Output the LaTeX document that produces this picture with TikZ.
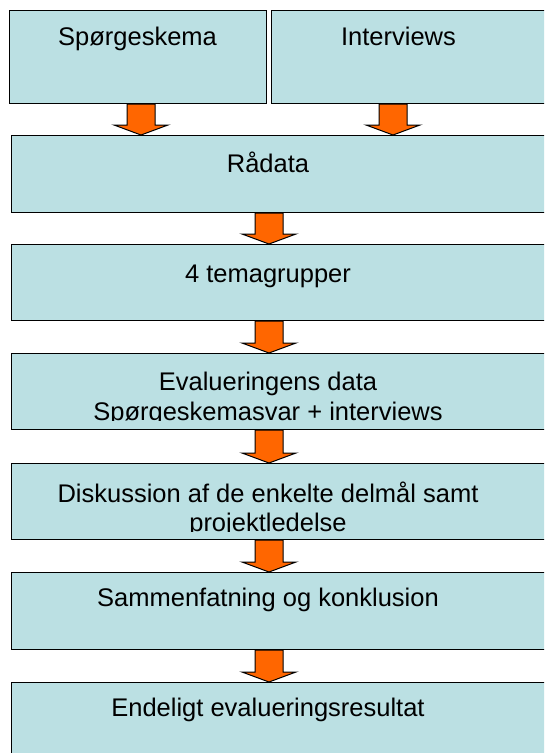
\documentclass[tikz,border=0pt]{standalone}
\usepackage{fontspec}
\setmainfont{Liberation Sans}
\usetikzlibrary{calc}
\definecolor{boxfill}{RGB}{187,224,227}
\definecolor{arroworange}{RGB}{255,102,0}
\tikzset{
  box/.style={draw=black, fill=boxfill, line width=1.1pt, rectangle, inner sep=0pt, anchor=north west},
  txt/.style={inner sep=0pt, anchor=base, font=\fontsize{25.5}{29.5}\selectfont},
  arrowsty/.style={draw=black, fill=arroworange, line width=1pt, line join=miter}
}
\newcommand\barrow[3]{%
  \draw[arrowsty] let \p1=(#2.south), \p2=(#3.north) in
    ({#1pt-14pt},\y1) -- ({#1pt+14pt},\y1) -- ({#1pt+14pt},{\y2+10pt}) --
    ({#1pt+27pt},{\y2+10pt}) -- (#1pt,\y2) -- ({#1pt-27pt},{\y2+10pt}) --
    ({#1pt-14pt},{\y2+10pt}) -- cycle;}
\begin{document}
\begin{tikzpicture}[x=1pt,y=-1pt]
\useasboundingbox (0,0) rectangle (544,753);
\clip (0,0) rectangle (544,753);
% boxes
\node[box, minimum width=257pt, minimum height=93pt] (b1) at (9,10) {};
\node[box, minimum width=320pt, minimum height=93pt] (b2) at (271,10) {};
\node[box, minimum width=600pt, minimum height=77pt] (rad) at (11,135) {};
\node[box, minimum width=600pt, minimum height=76pt] (tema) at (11,244) {};
\node[box, minimum width=600pt, minimum height=76pt] (eval) at (11,353) {};
\node[box, minimum width=600pt, minimum height=76pt] (disk) at (11,463) {};
\node[box, minimum width=600pt, minimum height=77pt] (samm) at (11,572) {};
\node[box, minimum width=600pt, minimum height=120pt] (end) at (11,682) {};
% texts
\node[txt] (t1) at (137.5,45.5) {Spørgeskema};
\node[txt] (t2) at (398.5,45.5) {Interviews};
\node[txt] (t3) at (268,172) {Rådata};
\node[txt] (t4) at (268,282) {4 temagrupper};
\node[txt] (t5a) at (268,390.5) {Evalueringens data};
\begin{scope}
  \clip (0,300) rectangle (544,420.5);
  \node[txt] (t5b) at (268,420) {Spørgeskemasvar + interviews};
\end{scope}
\node[txt] (t6a) at (268,502.5) {Diskussion af de enkelte delmål samt};
\begin{scope}
  \clip (0,450) rectangle (544,531.5);
  \node[txt] (t6b) at (268,531.5) {projektledelse};
\end{scope}
\node[txt] (t7) at (268,606) {Sammenfatning og konklusion};
\node[txt] (t8) at (268,716.5) {Endeligt evalueringsresultat};
% arrows
\barrow{141}{b1}{rad}
\barrow{393}{b2}{rad}
\barrow{269}{rad}{tema}
\barrow{269}{tema}{eval}
\barrow{269}{eval}{disk}
\barrow{269}{disk}{samm}
\barrow{269}{samm}{end}
\end{tikzpicture}
\end{document}
